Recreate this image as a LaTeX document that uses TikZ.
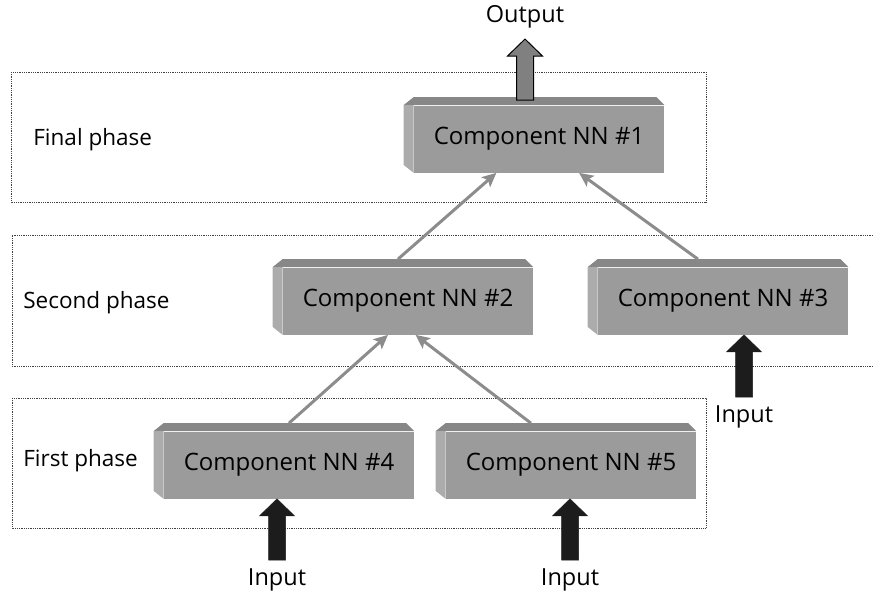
\documentclass[tikz,border=0pt]{standalone}
\usepackage{fontspec}
\setmainfont{Open Sans}
\usetikzlibrary{arrows.meta,calc}
\definecolor{boxfront}{RGB}{155,155,155}
\definecolor{boxtop}{RGB}{135,135,135}
\definecolor{boxside}{RGB}{172,172,172}
\definecolor{linkgray}{RGB}{140,140,140}
\definecolor{outgray}{RGB}{128,128,128}
\definecolor{ingray}{RGB}{28,28,28}
\tikzset{every picture/.style={line width=0.75pt},
  every node/.style={font=\fontsize{23.5}{28}\selectfont},
  nnbox/.style={fill=boxfront, minimum width=250pt, minimum height=67pt, inner sep=0pt,
    font=\fontsize{24}{28}\selectfont},
  phasebox/.style={densely dotted, draw=black!75, line width=0.8pt},
  phaselabel/.style={anchor=west, inner sep=0pt, font=\fontsize{22.5}{27}\selectfont},
  link/.style={draw=linkgray, line width=3pt, -{Stealth[length=14pt,width=13pt,inset=3pt]}},
  outarrow/.style={fill=outgray, draw=black, line width=1pt},
  inarrow/.style={fill=ingray, draw=ingray, line width=0.5pt}}
% bevelled top and left faces of a box
\newcommand\bevel[1]{%
  \fill[boxtop] ($(#1.north west)+(-10pt,0)$) -- ($(#1.north west)+(0,8pt)$)
    -- ($(#1.north east)+(-8pt,8pt)$) -- (#1.north east) -- cycle;
  \fill[boxside] ($(#1.north west)+(-10pt,0)$) -- (#1.north west) -- (#1.south west)
    -- ($(#1.south west)+(-10pt,8pt)$) -- cycle;}
% block arrow: style, foot, tip
\newcommand\blockarrow[3]{%
  \filldraw[#1] ($(#2)+(-8.5pt,0)$) -- ($(#3)+(-8.5pt,-17pt)$) -- ($(#3)+(-17.5pt,-17pt)$)
    -- (#3) -- ($(#3)+(17.5pt,-17pt)$) -- ($(#3)+(8.5pt,-17pt)$) -- ($(#2)+(8.5pt,0)$) -- cycle;}

\begin{document}
\begin{tikzpicture}[x=1pt,y=-1pt]
    \useasboundingbox (0,0) rectangle (873,595);
    % phases
    \draw[phasebox] (11,72) rectangle (706,202);
    \draw[phasebox] (873,235) -- (12,235) -- (12,366) -- (873,366);
    \draw[phasebox] (12,398) rectangle (706,528);
    \node[phaselabel] (final) at (33,140) {Final phase};
    \node[phaselabel] (second) at (23,303) {Second phase};
    \node[phaselabel] (first) at (23,461) {First phase};

    % component networks
    \node[nnbox] (nn1) at (539,139) {Component NN \#1};
    \node[nnbox] (nn2) at (408,301) {Component NN \#2};
    \node[nnbox] (nn3) at (723,301) {Component NN \#3};
    \node[nnbox] (nn4) at (289,465) {Component NN \#4};
    \node[nnbox] (nn5) at (571,465) {Component NN \#5};
    \bevel{nn1} \bevel{nn2} \bevel{nn3} \bevel{nn4} \bevel{nn5}

    % links between phases
    \draw[link] ($(nn2.north west)!0.46!(nn2.north east)+(0,8pt)$) -- ($(nn1.south west)!0.33!(nn1.south east)$);
    \draw[link] ($(nn3.north west)!0.40!(nn3.north east)+(0,8pt)$) -- ($(nn1.south west)!0.66!(nn1.south east)$);
    \draw[link] ($(nn4.north west)!0.50!(nn4.north east)+(0,8pt)$) -- ($(nn2.south west)!0.42!(nn2.south east)$);
    \draw[link] ($(nn5.north west)!0.34!(nn5.north east)+(0,8pt)$) -- ($(nn2.south west)!0.53!(nn2.south east)$);

    % output and inputs
    \node (out) at (525,17) {Output};
    \node (in3) at (744,417) {Input};
    \node (in4) at (277,580) {Input};
    \node (in5) at (570,580) {Input};
    \coordinate (outfoot) at ($(nn1.north -| out)+(0,5pt)$);
    \coordinate (outtip) at ($(out.south)+(0,-7pt)$);
    \blockarrow{outarrow}{outfoot}{outtip}
    \coordinate (tip3) at (nn3.south -| in3);
    \coordinate (tip4) at (nn4.south -| in4);
    \coordinate (tip5) at (nn5.south -| in5);
    \blockarrow{inarrow}{$(in3.north)+(0,5pt)$}{tip3}
    \blockarrow{inarrow}{$(in4.north)+(0,5pt)$}{tip4}
    \blockarrow{inarrow}{$(in5.north)+(0,5pt)$}{tip5}
\end{tikzpicture}
\end{document}
